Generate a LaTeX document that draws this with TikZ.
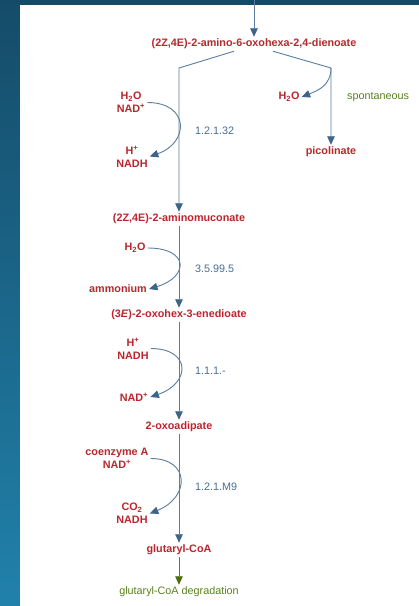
\documentclass[tikz,border=0pt]{standalone}
\usepackage{fontspec}
\setmainfont{Liberation Sans}
\usetikzlibrary{arrows.meta}

\definecolor{framedark}{HTML}{134A66}
\definecolor{bandtop}{HTML}{154C69}
\definecolor{bandbottom}{HTML}{2181AB}
\definecolor{cpdred}{HTML}{B8272D}
\definecolor{enzblue}{HTML}{4A6E96}
\definecolor{lineblue}{HTML}{5A7DA0}
\definecolor{headblue}{HTML}{3E6489}
\definecolor{pathgreen}{HTML}{5A821E}
\definecolor{headgreen}{HTML}{4A6E10}

\begin{document}
\begin{tikzpicture}[x=1pt,y=-1pt,
  cpd/.style={text=cpdred, font=\fontsize{10.8}{13}\selectfont\bfseries,
              inner sep=2pt, align=center},
  enz/.style={text=enzblue, font=\fontsize{10.8}{13}\selectfont,
              anchor=west, inner sep=0pt},
  note/.style={text=pathgreen, font=\fontsize{10.8}{13}\selectfont, inner sep=2pt},
  flow/.style={draw=lineblue, line width=0.9pt,
               -{Triangle[length=8.5pt,width=7.5pt,color=headblue]}},
  plain/.style={draw=lineblue, line width=0.9pt},
  gflow/.style={draw=pathgreen, line width=0.9pt,
                -{Triangle[length=8.5pt,width=7.5pt,color=headgreen]}}
]
% frame and page
\fill[framedark] (0,0) rectangle (419,606);
\shade[top color=bandtop, bottom color=bandbottom] (0,5) rectangle (20,606);
\fill[white] (20,5) rectangle (419,606);
\useasboundingbox (0,0) rectangle (419,606);

% compounds of the main route
\node[cpd] (top) at (254,44) {(2Z,4E)-2-amino-6-oxohexa-2,4-dienoate};
\node[cpd] (amc) at (179,219) {(2Z,4E)-2-aminomuconate};
\node[cpd] (ene) at (179,315) {(3\textit{E})-2-oxohex-3-enedioate};
\node[cpd] (oxo) at (179,427) {2-oxoadipate};
\node[cpd] (glu) at (179,550) {glutaryl-CoA};
\node[note] (deg) at (179,592) {glutaryl-CoA degradation};
\node[cpd] (pic) at (331,152) {picolinate};

% co-substrates and co-products
\node[cpd] (c1in)  at (131,102.5) {H\textsubscript{2}O\\NAD\textsuperscript{+}};
\node[cpd] (c1out) at (132,156.5) {H\textsuperscript{+}\\NADH};
\node[cpd] (c2in)  at (135,248) {H\textsubscript{2}O};
\node[cpd] (c2out) at (118,289) {ammonium};
\node[cpd] (c3in)  at (133,348.5) {H\textsuperscript{+}\\NADH};
\node[cpd] (c3out) at (134,397) {NAD\textsuperscript{+}};
\node[cpd] (c4in)  at (117,458.5) {coenzyme A\\NAD\textsuperscript{+}};
\node[cpd] (c4out) at (132,513.5) {CO\textsubscript{2}\\NADH};
\node[cpd] (w)     at (289,97) {H\textsubscript{2}O};

% enzyme and note labels
\node[enz] at (195,131) {1.2.1.32};
\node[enz] at (195,269) {3.5.99.5};
\node[enz] at (195,371) {1.1.1.-};
\node[enz] at (195,487) {1.2.1.M9};
\node[note, anchor=west, inner sep=0pt] at (347,97) {spontaneous};

% incoming route and branch points
\coordinate (in) at (254,0);
\coordinate (bl) at (179,68);
\coordinate (br) at (331,68);

\draw[flow] (in) -- (top);
\draw[flow] ([xshift=-20pt]top.south) -- (bl) -- (amc);
\draw[flow] ([xshift=19pt]top.south) -- (br) -- (pic);
\draw[flow] (amc) -- (ene);
\draw[flow] (ene) -- (oxo);
\draw[flow] (oxo) -- (glu);
\draw[gflow] (glu) -- (deg);

% side reactions
\draw[flow] (c1in.east) .. controls +(42,0) and +(40,-14) .. (c1out.east);
\draw[flow] (c2in.east) .. controls +(42,0) and +(40,-12) .. (c2out.east);
\draw[flow] (c3in.east) .. controls +(40,0) and +(41,-14) .. (c3out.east);
\draw[flow] (c4in.east) .. controls +(40,0) and +(40,-16) .. (c4out.east);
\draw[flow] (br) .. controls +(0,18) and +(15,-6) .. (w.east);
\end{tikzpicture}
\end{document}
